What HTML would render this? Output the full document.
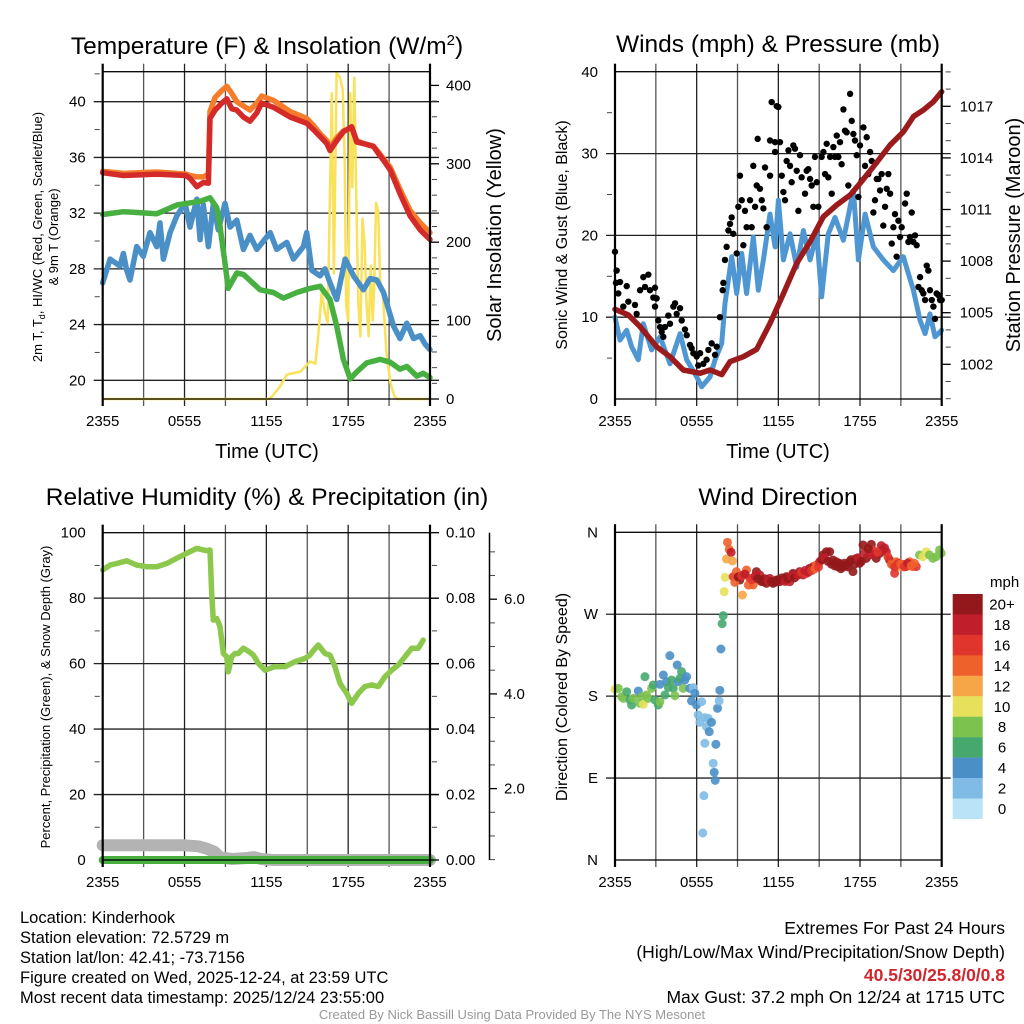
<!DOCTYPE html>
<html><head><meta charset="utf-8"><style>
body{margin:0;background:#fff;}
svg{display:block;font-family:"Liberation Sans",Arial,sans-serif;}
</style></head><body>
<svg id="chart" width="1024" height="1024" viewBox="0 0 1024 1024">
<rect width="1024" height="1024" fill="#fff"/>
<g id="grid"></g><g id="marks"></g><g id="axes"></g>
<g font-size="24.5" text-anchor="middle" fill="#000">
<text x="267" y="54">Temperature (F) &amp; Insolation (W/m<tspan font-size="15" dy="-9">2</tspan><tspan dy="9">)</tspan></text>
<text x="778" y="52">Winds (mph) &amp; Pressure (mb)</text>
<text x="267" y="505">Relative Humidity (%) &amp; Precipitation (in)</text>
<text x="778" y="505">Wind Direction</text>
</g>
<g font-size="20" text-anchor="middle">
<text x="267" y="458">Time (UTC)</text>
<text x="778" y="458">Time (UTC)</text>
<text transform="translate(501,235) rotate(-90)">Solar Insolation (Yellow)</text>
<text transform="translate(1020,235) rotate(-90)">Station Pressure (Maroon)</text>
</g>
<g font-size="16" text-anchor="middle">
<text transform="translate(567,235) rotate(-90)">Sonic Wind &amp; Gust (Blue, Black)</text>
<text transform="translate(567,697) rotate(-90)">Direction (Colored By Speed)</text>
</g>
<g font-size="13" text-anchor="middle">
<text transform="translate(42,237) rotate(-90)">2m T, T<tspan font-size="9" dy="3">d</tspan><tspan dy="-3">, HI/WC (Red, Green, Scarlet/Blue)</tspan></text>
<text transform="translate(58,237) rotate(-90)">&amp; 9m T (Orange)</text>
<text transform="translate(50,697) rotate(-90)">Percent, Precipitation (Green), &amp; Snow Depth (Gray)</text>
</g>
<g font-size="16.5" fill="#000">
<text x="20" y="923">Location: Kinderhook</text>
<text x="20" y="943">Station elevation: 72.5729 m</text>
<text x="20" y="963">Station lat/lon: 42.41; -73.7156</text>
<text x="20" y="983">Figure created on Wed, 2025-12-24, at 23:59 UTC</text>
<text x="20" y="1003">Most recent data timestamp: 2025/12/24 23:55:00</text>
</g>
<g font-size="17.5" text-anchor="end">
<text x="1005" y="934">Extremes For Past 24 Hours</text>
<text x="1005" y="958">(High/Low/Max Wind/Precipitation/Snow Depth)</text>
<text x="1005" y="981" fill="#d0262d" font-weight="bold">40.5/30/25.8/0/0.8</text>
<text x="1005" y="1003">Max Gust: 37.2 mph On 12/24 at 1715 UTC</text>
</g>
<text x="512" y="1019" font-size="13" fill="#999" text-anchor="middle">Created By Nick Bassill Using Data Provided By The NYS Mesonet</text>
<g id="cbar"></g>
</svg>
<script>
// ---- Temperature panel data ----
const tRed=[0,1.52,3.96,6.09,6.4,6.9,7.38,7.75,7.87,8.24,8.73,9.1,9.46,9.83,10.32,10.8,11.3,11.66,12.52,13.74,14.96,15.45,15.94,16.43,16.67,17.16,17.65,18.26,18.63,19.12,19.85,20.2,20.59,21.08,21.8,22.54,23.28,24];
const tempRed=[34.9,34.7,34.8,34.7,34.5,33.9,34.2,34.15,38.8,39.4,39.9,40.2,39.5,39.4,38.9,38.6,39.2,39.9,39.6,38.9,38.45,38.0,37.5,37.0,36.5,37.2,37.85,38.2,37.1,37.0,36.8,36.3,35.8,35.1,33.4,31.8,30.8,30.1];
const tempOrange=[35.0,34.85,34.95,34.8,34.7,34.6,34.6,34.8,39.3,40.3,40.8,41.1,40.6,40.0,39.7,39.4,39.9,40.4,40.1,39.3,38.8,38.3,37.7,37.2,36.7,37.4,37.9,38.1,37.2,37.0,36.8,36.4,35.9,35.3,33.7,32.2,31.3,30.6];
const tDew=[0,1.52,3.96,5.48,7.14,7.87,8.36,8.6,9.0,9.2,9.83,10.32,11.54,12.52,13.25,14.23,15.2,15.94,16.67,17.16,17.65,18.15,18.63,19.36,20.34,21.08,21.8,22.3,23.03,23.5,24];
const tempDew=[31.9,32.1,31.95,32.6,32.85,33.1,32.4,31.05,28.2,26.6,27.7,27.6,26.5,26.3,25.9,26.3,26.6,26.75,25.8,23.9,21.5,20.1,20.6,21.25,21.5,21.3,20.8,21.0,20.3,20.5,20.2];
const tWc=[0,0.54,1.27,1.52,1.76,2.0,2.49,2.98,3.47,3.96,4.2,4.45,4.94,5.43,6.04,6.4,6.9,7.14,7.38,7.75,8.12,8.48,8.97,9.34,9.83,10.32,10.8,11.3,12.28,12.76,13.5,13.99,14.72,14.96,15.33,15.94,16.3,16.67,17.16,17.78,18.39,19.12,19.6,20.1,20.59,21.32,21.8,22.3,22.79,23.28,23.64,24];
const tempWc=[27.0,28.7,28.2,29.1,27.9,27.2,29.6,28.9,30.6,29.6,31.3,28.7,30.6,31.8,32.7,31.0,33.0,30.1,32.6,29.6,32.7,30.8,32.7,31.0,31.5,29.4,30.4,29.4,30.6,29.4,29.9,28.7,29.6,30.6,27.9,27.5,28.0,27.0,25.8,28.7,27.5,26.5,27.3,27.2,26.3,23.9,23.0,24.1,23.0,23.2,22.6,22.2];
const tSolar=[0,12.2,12.5,13.0,13.5,14.0,14.5,15.0,15.2,15.6,15.8,16.05,16.3,16.5,16.65,16.8,16.95,17.15,17.4,17.6,17.75,17.85,18.0,18.15,18.3,18.45,18.6,18.75,18.9,19.05,19.2,19.35,19.5,19.65,19.8,19.9,20.05,20.2,20.35,20.55,20.8,21.1,21.4,21.6,24];
const solar=[0,0,5,16,31,33,35,44,48,45,80,135,110,97,250,390,160,416,410,395,300,120,100,390,270,410,250,120,80,230,200,120,80,170,100,140,250,240,150,130,60,20,3,0,0];
// ---- Winds panel data ----
const tWind=[0,0.37,0.86,1.22,1.71,2.08,2.69,3.31,4.04,4.78,5.27,6.0,6.37,6.98,7.35,7.84,8.08,8.57,8.94,9.31,9.67,10.16,10.53,10.9,11.39,11.76,12.0,12.37,12.86,13.35,13.84,14.33,14.82,15.18,15.67,16.16,16.78,17.51,17.88,18.37,18.98,19.71,20.45,21.18,21.92,22.41,22.78,23.14,23.51,24];
const wind=[10.0,7.2,8.4,6.4,4.8,9.2,6.0,7.6,4.3,8.0,4.8,2.7,1.5,2.7,4.8,6.8,11.7,17.4,12.9,17.8,12.9,19.8,13.3,17.0,22.6,18.6,24.3,17.0,20.2,16.1,20.6,17.0,20.2,12.5,20.2,22.2,19.4,25.5,17.0,22.6,18.6,17.0,15.7,17.4,13.3,9.6,8.0,10.4,7.6,8.4];
const tGust=[0,0.12,0.07,0.37,0.24,0.61,0.86,0.98,1.47,1.59,1.84,2.08,2.2,2.45,2.57,2.94,2.82,3.06,2.94,3.18,3.31,3.43,3.67,3.55,3.92,4.04,4.29,4.41,4.53,4.78,4.9,5.14,5.27,5.51,5.63,5.76,6.0,6.12,6.25,6.49,6.73,6.86,7.1,7.35,7.47,7.71,7.91,7.96,8.08,8.2,8.33,8.45,8.57,8.69,8.94,9.06,9.18,9.31,9.43,9.55,9.67,9.92,10.04,10.16,10.29,10.41,10.48,10.65,10.78,10.9,11.02,11.14,11.39,11.39,11.51,11.76,11.76,11.88,12.0,12.12,12.25,12.37,12.49,12.61,12.74,12.86,12.98,13.1,13.22,13.35,13.47,13.59,13.71,13.96,14.08,14.2,14.33,14.45,14.57,14.69,14.82,14.94,15.18,15.31,15.43,15.55,15.67,15.8,15.92,16.04,16.16,16.29,16.41,16.53,16.65,16.78,16.9,17.02,17.14,17.27,17.39,17.51,17.63,17.76,17.88,18.0,18.12,18.25,18.37,18.49,18.61,18.74,18.86,18.98,19.1,19.23,19.35,19.47,19.59,19.71,19.84,19.96,20.08,20.21,20.33,20.45,20.57,20.69,20.82,20.94,21.06,21.31,21.43,21.55,21.67,21.8,21.92,22.04,22.16,22.29,22.41,22.53,22.65,22.78,22.9,23.02,23.14,23.27,23.39,23.51,23.63,23.76,23.88,24.0];
const gust=[18.0,15.7,14.2,14.3,12.9,11.3,13.8,11.9,11.5,10.4,13.3,14.9,13.7,15.2,13.3,13.6,12.4,12.3,11.3,9.6,8.8,8.2,8.8,7.6,10.2,9.2,11.3,11.7,10.4,11.1,9.6,8.5,7.8,6.6,6.2,5.6,5.2,4.1,5.6,4.3,4.8,6.0,6.8,5.4,6.4,10.0,13.3,14.2,17.0,18.6,20.6,21.4,22.2,20.2,17.8,23.5,27.3,24.3,18.8,23.0,21.0,24.3,21.0,28.5,23.5,26.1,31.8,25.7,24.3,23.3,28.3,21.0,27.3,31.6,36.3,31.4,30.2,35.8,35.7,31.4,27.3,25.3,24.3,29.1,30.4,28.5,26.5,31.0,30.6,27.9,23.0,29.8,27.1,25.1,27.9,28.1,26.9,26.1,23.5,29.6,26.5,23.5,29.6,30.2,27.5,31.2,27.1,29.6,25.1,30.8,29.6,32.2,29.6,31.4,28.7,35.4,32.8,32.6,26.1,37.3,34.0,32.4,31.6,29.8,24.7,31.0,26.7,33.2,28.5,32.0,27.5,30.2,29.1,22.8,24.3,26.9,26.9,25.5,27.5,21.2,23.5,25.7,27.5,25.1,19.0,21.0,22.6,17.4,21.8,19.8,21.0,23.9,25.1,19.2,19.8,22.8,19.2,20.0,18.8,13.7,14.9,13.3,12.9,12.1,16.3,15.7,13.3,12.1,11.3,9.8,12.9,12.7,12.1,12.1];
const tPres=[0,0.98,1.84,3.06,4.04,5.02,6.25,6.98,7.84,8.45,9.43,10.41,11.39,12.37,13.35,14.33,15.31,16.29,17.27,18.0,18.98,20.21,21.19,21.92,22.65,23.39,24];
const pressure=[1005.2,1004.87,1004.19,1003.02,1002.44,1001.67,1001.48,1001.67,1001.4,1002.15,1002.44,1002.87,1004.38,1006.1,1007.87,1009.13,1010.58,1011.26,1011.84,1012.52,1013.49,1014.75,1015.52,1016.4,1016.78,1017.27,1017.85];
// ---- Humidity panel data ----
const tRh=[0,0.54,1.03,1.76,2.49,3.23,3.96,4.69,5.43,6.16,6.89,7.62,7.87,7.99,8.11,8.36,8.6,8.85,9.09,9.21,9.46,9.7,9.95,10.31,10.68,11.05,11.41,11.9,12.63,13.37,14.1,14.84,15.2,15.37,15.81,16.3,16.67,17.03,17.4,17.89,18.26,18.75,19.23,19.72,20.21,20.7,21.19,21.68,22.17,22.66,23.14,23.5];
const rh=[88.6,90.1,90.6,91.4,90.1,89.6,89.6,90.6,92.2,93.7,95.2,94.5,94.7,81.5,73.3,73.8,71.3,63.1,62.1,57.5,62.1,63.1,63.1,64.7,63.8,62.6,60.1,58.0,59.1,59.1,60.6,61.6,62.6,63.6,65.7,63.1,62.6,59.1,54.0,50.9,47.9,50.9,53.0,53.5,53.0,56.0,58.0,59.6,62.1,64.7,64.7,67.2];
const tSnow=[0,3,6,7,7.6,8.2,8.6,9.5,10.6,11.1,11.6,12.5,24];
const snowPct=[4.5,4.5,4.5,4.2,3.5,2.5,0.8,0.3,0.6,0.9,0.3,0,0];
const tPrecip=[0,24];
const precip=[0,0];
// ---- Wind direction data ----
const tDir=[0,0.24,0.49,0.61,0.86,1.1,1.22,1.34,1.71,1.83,1.96,2.08,2.2,2.32,2.44,2.69,2.81,2.93,3.18,3.3,3.3,3.55,3.67,3.79,3.91,4.03,4.16,4.28,4.4,4.57,4.65,4.77,4.89,5.01,5.13,5.26,5.5,5.75,5.62,5.87,5.99,6.11,6.23,6.36,6.6,6.72,6.85,6.92,7.09,6.6,7.41,7.21,7.29,7.36,6.53,6.45,7.53,7.65,7.7,7.78,7.87,7.95,8.02,8.09,8.19,8.26,8.39,8.53,8.63,9.36,
8.68,8.92,9.17,9.41,9.66,9.9,10.15,10.39,10.64,10.88,11.12,11.37,11.61,11.86,12.1,12.35,12.59,12.84,13.08,13.33,13.57,13.81,14.06,14.3,14.55,14.79,15.04,15.28,15.53,15.77,16.01,16.26,16.5,16.75,16.99,17.24,17.48,17.73,17.97,18.22,18.46,18.7,18.83,18.95,19.19,19.44,19.56,19.68,19.93,20.17,20.42,20.54,20.66,20.9,21.15,21.39,21.64,21.88,22.13,
8.8,9.05,9.3,9.55,9.8,10.05,10.3,10.5,10.75,11.0,11.25,11.5,11.75,12.0,12.25,12.5,12.7,12.95,13.2,13.45,13.7,13.95,14.2,14.45,14.7,14.95,15.2,15.4,15.65,15.9,16.15,16.4,16.6,16.85,17.1,17.35,17.6,17.85,18.1,18.35,18.6,19.05,19.3,19.8,20.05,20.3,20.55,20.8,21.0,21.25,21.5,21.75,22.0,
22.37,22.62,22.86,23.1,23.35,23.59,23.84,23.96];
const dirDeg=[187.5,188.6,179.4,177.6,184.9,175.8,170.3,177.6,185.7,172.1,179.4,171.0,201.4,181.3,177.6,188.6,192.3,175.8,170.3,173.9,193.0,203.2,181.3,195.9,189.7,224.5,197.7,188.6,180.5,214.2,195.9,199.6,206.9,188.6,197.7,201.4,188.6,189.3,174.7,183.1,170.3,159.3,151.2,173.9,156.4,146.5,155.6,141.0,151.2,128.2,127.1,106.2,96.3,87.5,70.7,29.7,166.6,174.7,186.4,231.8,259.6,268.4,294.8,310.5,330.7,349.0,341.3,338.0,328.5,291.1,
311.3,316.8,307.6,313.1,318.6,309.4,302.1,316.8,313.1,305.8,303.9,309.4,303.9,307.6,305.8,307.6,311.3,305.8,314.9,313.1,316.8,313.1,314.9,320.4,322.3,324.1,327.7,335.1,338.7,338.7,329.6,327.7,325.9,322.3,324.1,327.7,316.8,331.4,325.9,346.1,331.4,335.1,346.8,340.6,331.4,336.9,345.3,340.6,338.7,329.6,324.1,314.9,327.7,322.3,324.8,322.3,327.7,322.3,322.3,
305,311,312,314,302,308,312,309,306,309,307,306,305,308,310,306,309,312,310,313,316,318,316,318,320,322,330,332,328,325,323,322,320,326,322,330,325,332,328,338,342,336,338,343,333,325,322,326,325,322,326,323,326,
335.1,333.2,338.7,335.1,331.4,333.2,340.6,336.9];
const dirSpeed=[10,8,8,8,6,6,6,8,4,8,8,10,6,8,8,8,6,6,6,8,4,4,6,4,6,4,6,6,8,4,4,6,6,8,4,4,4,2,4,4,4,2,2,2,2,2,2,4,4,2,4,2,4,4,2,2,4,2,4,4,6,6,10,10,12,14,14,18,12,12,
16,14,20,18,14,16,14,20,18,20,20,18,20,20,20,18,20,18,20,18,20,18,16,20,18,14,18,20,20,20,20,20,20,20,20,20,20,20,20,20,20,18,20,16,20,20,18,20,18,20,18,16,14,12,16,16,14,14,16,
14,20,16,18,14,16,18,20,20,20,18,20,20,20,20,18,20,18,20,18,16,18,18,16,14,16,20,18,20,20,20,20,20,20,20,20,20,18,20,18,20,18,16,18,16,14,16,16,14,16,18,14,14,
8,10,10,8,8,8,8,8];
// colorbar
const cbLabels=['20+','18','16','14','12','10','8','6','4','2','0'];
const cbColors=['#93181b','#bf1e2a','#e0352c','#ef612a','#f6a646','#e7e05b','#7cc24f','#47a86d','#4a8fc6','#80bbe6','#b9e3f7'];

const NS='http://www.w3.org/2000/svg';
function mk(tag,attrs,parent){const e=document.createElementNS(NS,tag);for(const k in attrs)e.setAttribute(k,attrs[k]);(parent||document.getElementById('marks')).appendChild(e);return e;}
const G=document.getElementById('grid'),A=document.getElementById('axes');
const P1={x0:102.7,x1:430,y0:71.7,y1:399},P2={x0:615,x1:941.7,y0:71.7,y1:399},P3={x0:102.7,x1:430,y0:532.7,y1:860},P4={x0:615,x1:941.7,y0:532.3,y1:860};
const xs=(P,t)=>P.x0+t/24*(P.x1-P.x0);
const yTemp=v=>101.7+(40-v)*13.93, ySolar=v=>399-v*0.784;
const yWind=v=>399-v*8.18, yPres=v=>364.3-(v-1002)*17.2;
const yRh=v=>860-v*3.273, yPrecip=v=>860-v*3273, ySnow=v=>883.3-v*47.35;
const yDir=v=>860-v/360*327.7;

function line(P,ts,vs,yf,color,w,name){
  let d='';ts.forEach((t,i)=>{d+=(i?'L':'M')+xs(P,t).toFixed(1)+','+yf(vs[i]).toFixed(1);});
  const e=mk('path',{d:d,fill:'none',stroke:color,'stroke-width':w,'stroke-linejoin':'round','stroke-linecap':'round'});
  
  
}
function panelFrame(P,hy,name){
  for(let i=0;i<=8;i++){const x=P.x0+i*(P.x1-P.x0)/8;
    const g=mk('line',{x1:x,x2:x,y1:P.y0-8,y2:P.y1+7,stroke:i%2?'#555':'#222','stroke-width':1.3},G);
    
    }
  hy.forEach(y=>{const g=mk('line',{x1:P.x0-9,x2:P.x1+9,y1:y,y2:y,stroke:'#222','stroke-width':1.3},G);
    
    });
  const f=mk('rect',{x:P.x0,y:P.y0,width:P.x1-P.x0,height:P.y1-P.y0,fill:'none',stroke:'#000','stroke-width':1.3},A);
  
  
  [P.x0,P.x1].forEach(x=>{const s=mk('line',{x1:x,x2:x,y1:P.y0-8,y2:P.y1+7,stroke:'#000','stroke-width':2.2},A);
    
    });
  ['2355','0555','1155','1755','2355'].forEach((l,i)=>{const t=mk('text',{x:xs(P,i*6),y:P.y1+27,'font-size':15,'text-anchor':'middle'},A);t.textContent=l;
    
    });
}
function ticks(vals,yf,x,side,labels,name,minor){
  vals.forEach((v,i)=>{const y=yf(v);
    if(labels){const t=mk('text',{x:side<0?x-9:x+9,y:y+5,'font-size':15,'text-anchor':side<0?'end':'start'},A);t.textContent=labels[i];
      
      }
  });
  (minor||[]).forEach(v=>{const y=yf(v);const m=mk('line',{x1:x,x2:x+side*-5,y1:y,y2:y,stroke:'#444','stroke-width':1},A);
    
    });
}
// Panel 1
const tempTicks=[20,24,28,32,36,40];
panelFrame(P1,tempTicks.map(yTemp),'temperature');
ticks(tempTicks,yTemp,P1.x0-8,-1,tempTicks.map(String),'temperature-y',[22,26,30,34,38,42]);
const solTicks=[0,100,200,300,400];
solTicks.forEach(v=>{const m=mk('line',{x1:P1.x1,x2:P1.x1+9,y1:ySolar(v),y2:ySolar(v),stroke:'#000','stroke-width':1.3},A);
  
  });
ticks(solTicks,ySolar,P1.x1+7,1,solTicks.map(String),'solar-y',[20,40,60,80,120,140,160,180,220,240,260,280,320,340,360,380]);
line(P1,tSolar,solar,ySolar,'#f9e15a',2.5,'solar-insolation-line');
line(P1,tWc,tempWc,yTemp,'#4a8fc6',5.5,'windchill-line');
line(P1,tDew,tempDew,yTemp,'#47b040',5.5,'dewpoint-line');
line(P1,tRed,tempOrange,yTemp,'#f47c2a',5.5,'9m-temperature-line');
line(P1,tRed,tempRed,yTemp,'#d42a2a',5.5,'2m-temperature-line');
// Panel 2
const windTicks=[0,10,20,30,40];
panelFrame(P2,[10,20,30].map(yWind),'winds');
ticks(windTicks,yWind,P2.x0-8,-1,windTicks.map(String),'wind-y',[5,15,25,35]);
const presTicks=[1002,1005,1008,1011,1014,1017];
presTicks.forEach(v=>{const m=mk('line',{x1:P2.x1,x2:P2.x1+9,y1:yPres(v),y2:yPres(v),stroke:'#000','stroke-width':1.3},A);
  
  });
ticks(presTicks,yPres,P2.x1+9,1,presTicks.map(String),'pressure-y',[1000,1001,1003,1004,1006,1007,1009,1010,1012,1013,1015,1016,1018,1019]);
line(P2,tWind,wind,yWind,'#4f97d2',5,'sonic-wind-line');
tGust.forEach((t,i)=>{const c=mk('circle',{cx:xs(P2,t),cy:yWind(gust[i]),r:3.2,fill:'#000'});
  
  });
line(P2,tPres,pressure,yPres,'#9b1a1c',5.5,'station-pressure-line');
// Panel 3
const rhTicks=[0,20,40,60,80,100];
panelFrame(P3,[20,40,60,80].map(yRh),'humidity');
ticks(rhTicks,yRh,P3.x0-8,-1,rhTicks.map(String),'humidity-y',[10,30,50,70,90]);
const prTicks=[0,0.02,0.04,0.06,0.08,0.1];
prTicks.forEach(v=>{const m=mk('line',{x1:P3.x1,x2:P3.x1+9,y1:yPrecip(v),y2:yPrecip(v),stroke:'#000','stroke-width':1.3},A);
  
  });
ticks(prTicks,yPrecip,P3.x1+7,1,prTicks.map(v=>v.toFixed(2)),'precip-y',[0.01,0.03,0.05,0.07,0.09]);
{const s=mk('line',{x1:489.5,x2:489.5,y1:532.7,y2:860,stroke:'#000','stroke-width':1.5},A);
 
 }
const snowTicks=[2,4,6];
snowTicks.forEach(v=>{const m=mk('line',{x1:489.5,x2:497,y1:ySnow(v),y2:ySnow(v),stroke:'#000','stroke-width':1.3},A);
  
  });
ticks(snowTicks,ySnow,495,1,snowTicks.map(v=>v.toFixed(1)),'snow-y',[0.5,1,1.5,2.5,3,3.5,4.5,5,5.5,6.5,7].filter(v=>ySnow(v)<860));
line(P3,tSnow,snowPct,yRh,'#b3b3b3',12,'snow-depth-line');
line(P3,tPrecip,precip,yPrecip,'#47b040',8,'precipitation-line');
line(P3,tRh,rh,yRh,'#8cc84b',5.5,'relative-humidity-line');
// Panel 4
const dirTicks=[0,90,180,270,360],dirLabels=['N','E','S','W','N'];
panelFrame(P4,[90,180,270].map(yDir),'direction');
ticks(dirTicks,yDir,P4.x0-8,-1,dirLabels,'direction-y',[]);
tDir.forEach((t,i)=>{const s=dirSpeed[i];const bi=10-Math.min(10,Math.floor(s/2));
  const c=mk('circle',{cx:xs(P4,t),cy:yDir(dirDeg[i]),r:4.5,fill:cbColors[bi],'fill-opacity':0.9});
  
  });
// colorbar
const CB=document.getElementById('cbar');
{const t=mk('text',{x:990,y:587,'font-size':15},CB);t.textContent='mph';
 
 }
cbLabels.forEach((l,i)=>{const y=594+i*20.45;
  const r=mk('rect',{x:952.7,y:y,width:30,height:20.6,fill:cbColors[i]},CB);
  
  
  const t=mk('text',{x:1002,y:y+15.5,'font-size':15,'text-anchor':'middle'},CB);t.textContent=l;
  
  });
</script>
</body></html>
